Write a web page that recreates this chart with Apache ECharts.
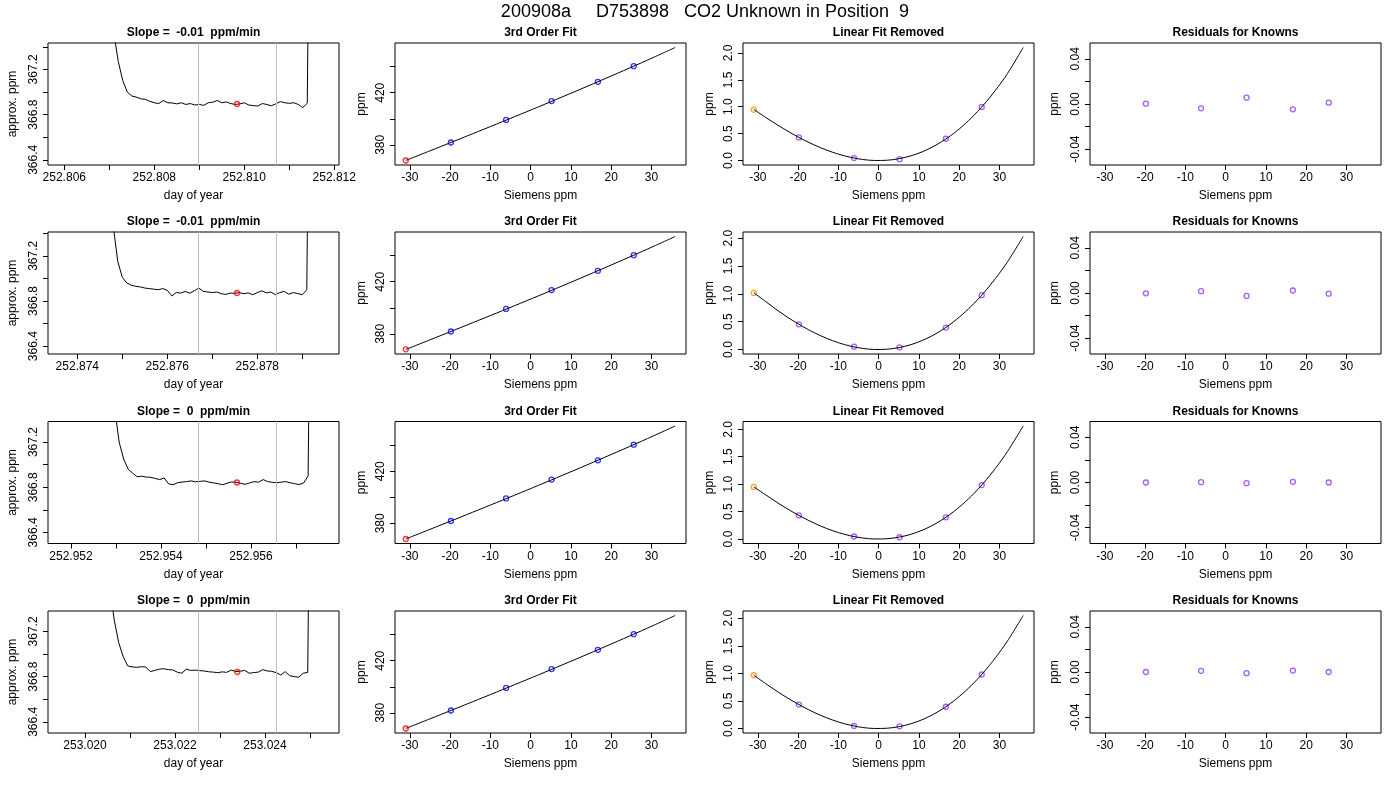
<!DOCTYPE html>
<html><head><meta charset="utf-8">
<script src="https://cdn.jsdelivr.net/npm/echarts@6/dist/echarts.min.js"></script>
<style>html,body{margin:0;padding:0;background:#fff}#c{width:1400px;height:800px}</style>
</head><body><div id="c"></div>
<script>
// ---------------- DATA ----------------
const mainTitle = '200908a     D753898   CO2 Unknown in Position  9';
const slopeLabels = ['-0.01', '-0.01', '0', '0'];

// time series (day of year), regular sampling
const tsStart = [252.8071, 252.8748, 252.95297, 253.02055];
const tsStep = 0.0001;
const tsValues1 = [367.52, 367.27, 367.10, 367.00, 366.965, 366.955, 366.94, 366.935, 366.918, 366.905, 366.898, 366.925, 366.905, 366.903, 366.895, 366.905, 366.89, 366.898, 366.885, 366.89, 366.882, 366.905, 366.91, 366.925, 366.905, 366.912, 366.898, 366.89, 366.895, 366.905, 366.885, 366.88, 366.876, 366.898, 366.89, 366.878, 366.895, 366.915, 366.905, 366.9, 366.905, 366.89, 366.862, 366.90, 371];
const tsValues2 = [367.46, 367.15, 367.01, 366.96, 366.94, 366.93, 366.925, 366.915, 366.91, 366.905, 366.9, 366.91, 366.895, 366.845, 366.875, 366.87, 366.885, 366.87, 366.89, 366.915, 366.885, 366.88, 366.875, 366.88, 366.865, 366.858, 366.87, 366.868, 366.875, 366.865, 366.872, 366.856, 366.875, 366.89, 366.872, 366.88, 366.856, 366.875, 366.885, 366.86, 366.875, 366.866, 366.856, 366.90, 371];
const tsValues3 = [367.50, 367.20, 367.05, 366.96, 366.925, 366.893, 366.898, 366.89, 366.888, 366.878, 366.868, 366.882, 366.83, 366.822, 366.84, 366.846, 366.85, 366.856, 366.848, 366.852, 366.856, 366.845, 366.838, 366.832, 366.822, 366.835, 366.847, 366.843, 366.835, 366.826, 366.838, 366.85, 366.845, 366.868, 366.85, 366.844, 366.84, 366.845, 366.85, 366.84, 366.832, 366.824, 366.838, 366.90, 371];
const tsValues4 = [367.6, 367.3, 367.1, 366.975, 366.895, 366.886, 366.882, 366.888, 366.885, 366.845, 366.855, 366.866, 366.87, 366.862, 366.86, 366.84, 366.83, 366.866, 366.855, 366.858, 366.853, 366.85, 366.843, 366.84, 366.835, 366.842, 366.838, 366.858, 366.845, 366.848, 366.855, 366.83, 366.836, 366.84, 366.862, 366.85, 366.847, 366.835, 366.815, 366.844, 366.808, 366.8, 366.795, 366.83, 366.838, 371];
const tsValues = [tsValues1, tsValues2, tsValues3, tsValues4];
const windowStart = [252.808971, 252.876689, 252.954829, 253.022518];
const windowEnd   = [252.810711, 252.878422, 252.956562, 253.024251];
const meanTime  = [252.80984, 252.87755, 252.955689, 253.023384];
const meanValue = [366.894, 366.871, 366.842, 366.841];
const timeAxisMin = [252.805638, 252.873349, 252.951489, 253.019178];
const timeAxisMax = [252.812105, 252.879816, 252.957956, 253.025645];
const timeTicks = [
  [252.806, 252.807, 252.808, 252.809, 252.810, 252.811, 252.812],
  [252.874, 252.875, 252.876, 252.877, 252.878, 252.879],
  [252.952, 252.953, 252.954, 252.955, 252.956, 252.957],
  [253.020, 253.021, 253.022, 253.023, 253.024, 253.025]
];
const timeLabels = [
  [252.806, 252.808, 252.810, 252.812],
  [252.874, 252.876, 252.878],
  [252.952, 252.954, 252.956],
  [253.020, 253.022, 253.024]
];
const ppmTicks = [366.4, 366.6, 366.8, 367.0, 367.2, 367.4];
const ppmLabels = [366.4, 366.8, 367.2];

// calibration
const knownX = [-19.8, -6.1, 5.2, 16.7, 25.6];
const unknownX = -31.0;
const knownPpm = [381.8, 399.1, 413.6, 428.4, 440.4];
const unknownPpm = [368.0, 368.1, 368.0, 368.0];
const fitLineX = [-31, -25, -19, -13, -7, -1, 5, 11, 17, 23, 29, 35.9];
const fitLineY = [368.0, 375.39, 382.80, 390.27, 397.79, 405.40, 413.10, 420.91, 428.83, 436.86, 445.04, 454.7];
const fitTicks = [380, 400, 420, 440];
const fitLabels = [380, 420];

const residCurveX = [-31, -28, -25, -22, -19, -16, -13, -10, -7, -4, -1, 2, 5, 8, 11, 14, 17, 20, 23, 26, 29, 32, 35.9];
const residCurve1 = [0.95, 0.80, 0.656, 0.521, 0.398, 0.290, 0.196, 0.119, 0.060, 0.020, 0.001, 0.005, 0.033, 0.087, 0.167, 0.277, 0.416, 0.586, 0.791, 1.029, 1.304, 1.617, 2.10];
const residCurve2 = [1.02, 0.859, 0.698, 0.551, 0.419, 0.303, 0.204, 0.123, 0.061, 0.021, 0.001, 0.005, 0.034, 0.087, 0.168, 0.275, 0.412, 0.580, 0.779, 1.010, 1.275, 1.575, 2.03];
const residCurve3 = [0.95, 0.803, 0.657, 0.521, 0.399, 0.290, 0.195, 0.118, 0.059, 0.019, 0.001, 0.005, 0.033, 0.086, 0.166, 0.274, 0.412, 0.580, 0.781, 1.017, 1.288, 1.596, 2.06];
const residCurve4 = [0.967, 0.813, 0.664, 0.527, 0.402, 0.292, 0.197, 0.119, 0.060, 0.019, 0.001, 0.005, 0.033, 0.086, 0.166, 0.274, 0.411, 0.580, 0.780, 1.014, 1.283, 1.589, 2.05];
const residCurves = [residCurve1, residCurve2, residCurve3, residCurve4];
const linRemovedKnown = [
  [0.43, 0.045, 0.026, 0.405, 0.995],
  [0.453, 0.052, 0.039, 0.395, 0.977],
  [0.43, 0.046, 0.033, 0.396, 0.983],
  [0.434, 0.046, 0.04, 0.395, 0.98]
];
const linRemovedUnknown = [0.945, 1.016, 0.95, 0.967];
const residTicks = [0, 0.5, 1.0, 1.5, 2.0];

const knownResiduals = [
  [0.0003, -0.0038, 0.0056, -0.0047, 0.0012],
  [-0.0003, 0.0016, -0.0026, 0.0022, -0.0006],
  [0.0, 0.0003, -0.0006, 0.0006, 0.0],
  [0.0, 0.001, -0.001, 0.0013, 0.0]
];
const knownResTicks = [-0.04, -0.02, 0, 0.02, 0.04];
const knownResLabels = [-0.04, 0, 0.04];
const sieTicks = [-30, -20, -10, 0, 10, 20, 30];

// ---------------- LAYOUT / BUILD ----------------
const FONT = '"Liberation Sans", Arial, Helvetica, sans-serif';
const PURPLE = '#9038f2';
const colLeft = [48, 395, 743, 1090];
const rowTop = [43, 232, 421.5, 611];
const W = 291, H = 122;
const sieRange = [-33.68, 38.58];

function padRange(arr) {
  const mn = Math.min(...arr), mx = Math.max(...arr), d = (mx - mn) * 0.04;
  return [mn - d, mx + d];
}
function inRange(vals, r) { return vals.filter(v => v >= r[0] - 1e-9 && v <= r[1] + 1e-9); }

const grids = [], xAxes = [], yAxes = [], series = [], titles = [];
titles.push({ text: mainTitle, left: 705, top: 3, textAlign: 'center', padding: 0,
  textStyle: { fontSize: 18, fontWeight: 'normal', color: '#000', fontFamily: FONT } });

function mkAxis(o) {
  return {
    type: 'value', gridIndex: o.grid, min: o.min, max: o.max, scale: true,
    name: o.name, nameLocation: 'middle', nameGap: o.nameGap, nameRotate: o.y ? 90 : 0,
    nameTextStyle: { fontSize: 12, color: '#000', fontFamily: FONT },
    axisLine: { show: false, onZero: false },
    axisTick: { show: true, inside: false, length: 5, lineStyle: { color: '#000', width: 1 }, customValues: o.ticks },
    axisLabel: { show: true, margin: o.y ? 8 : 7, fontSize: 12, color: '#000', fontFamily: FONT,
      rotate: o.y ? 90 : 0, customValues: o.labels, formatter: o.fmt, hideOverlap: false },
    splitLine: { show: false }
  };
}
const openCircle = (c) => ({ color: 'rgba(0,0,0,0)', borderColor: c, borderWidth: 1.3 });

for (let r = 0; r < 4; r++) {
  const titlesTxt = ['Slope =  ' + slopeLabels[r] + '  ppm/min', '3rd Order Fit', 'Linear Fit Removed', 'Residuals for Knowns'];
  for (let c = 0; c < 4; c++) {
    grids.push({ left: colLeft[c], top: rowTop[r], width: W, height: H, show: true,
      borderColor: '#000', borderWidth: 1, backgroundColor: 'transparent', containLabel: false, outerBoundsMode: 'none' });
    titles.push({ text: titlesTxt[c], left: colLeft[c] + W / 2, top: rowTop[r] - 16, textAlign: 'center', padding: 0,
      textStyle: { fontSize: 12, fontWeight: 'bold', color: '#000', fontFamily: FONT } });
  }
  // --- col 1: time series
  const g0 = r * 4;
  const yr = [meanValue[r] - 0.54, meanValue[r] + 0.54];
  xAxes.push(mkAxis({ grid: g0, min: timeAxisMin[r], max: timeAxisMax[r], name: 'day of year', nameGap: 25,
    ticks: timeTicks[r], labels: timeLabels[r], fmt: v => Number(v).toFixed(3) }));
  yAxes.push(mkAxis({ grid: g0, y: true, min: yr[0], max: yr[1], name: 'approx. ppm', nameGap: 29,
    ticks: inRange(ppmTicks, yr), labels: inRange(ppmLabels, yr), fmt: v => Number(v).toFixed(1) }));
  series.push({ type: 'line', xAxisIndex: g0, yAxisIndex: g0, showSymbol: false, symbol: 'none', clip: true,
    lineStyle: { color: '#000', width: 1 }, silent: true, animation: false, z: 3,
    data: tsValues[r].map((v, i) => [tsStart[r] + i * tsStep, v]) });
  series.push({ type: 'line', xAxisIndex: g0, yAxisIndex: g0, showSymbol: false, symbol: 'none', data: [], z: 1,
    markLine: { silent: true, symbol: ['none', 'none'], label: { show: false }, animation: false, precision: 10,
      lineStyle: { color: '#bebebe', type: 'solid', width: 1 },
      data: [
        [{ coord: [windowStart[r], yr[0]] }, { coord: [windowStart[r], yr[1]] }],
        [{ coord: [windowEnd[r], yr[0]] }, { coord: [windowEnd[r], yr[1]] }]
      ] } });
  series.push({ type: 'scatter', xAxisIndex: g0, yAxisIndex: g0, symbol: 'circle', symbolSize: 5, silent: true, animation: false, z: 4,
    itemStyle: openCircle('#ff0000'), data: [[meanTime[r], meanValue[r]]] });

  // --- col 2: 3rd order fit
  const g1 = r * 4 + 1;
  const fr = padRange(fitLineY.concat(knownPpm, [unknownPpm[r]]));
  xAxes.push(mkAxis({ grid: g1, min: sieRange[0], max: sieRange[1], name: 'Siemens ppm', nameGap: 25,
    ticks: sieTicks, labels: sieTicks, fmt: v => String(Math.round(v)) }));
  yAxes.push(mkAxis({ grid: g1, y: true, min: fr[0], max: fr[1], name: 'ppm', nameGap: 27,
    ticks: inRange(fitTicks, fr), labels: inRange(fitLabels, fr), fmt: v => String(Math.round(v)) }));
  series.push({ type: 'line', xAxisIndex: g1, yAxisIndex: g1, showSymbol: false, symbol: 'none', smooth: 0.3,
    lineStyle: { color: '#000', width: 1 }, silent: true, animation: false,
    data: fitLineX.map((x, i) => [x, fitLineY[i]]) });
  series.push({ type: 'scatter', xAxisIndex: g1, yAxisIndex: g1, symbol: 'circle', symbolSize: 5, silent: true, animation: false,
    itemStyle: openCircle('#0000ff'), data: knownX.map((x, i) => [x, knownPpm[i]]) });
  series.push({ type: 'scatter', xAxisIndex: g1, yAxisIndex: g1, symbol: 'circle', symbolSize: 5, silent: true, animation: false,
    itemStyle: openCircle('#ff0000'), data: [[unknownX, unknownPpm[r]]] });

  // --- col 3: linear fit removed
  const g2 = r * 4 + 2;
  const rr = padRange(residCurves[r].concat(linRemovedKnown[r], [linRemovedUnknown[r]]));
  xAxes.push(mkAxis({ grid: g2, min: sieRange[0], max: sieRange[1], name: 'Siemens ppm', nameGap: 25,
    ticks: sieTicks, labels: sieTicks, fmt: v => String(Math.round(v)) }));
  yAxes.push(mkAxis({ grid: g2, y: true, min: rr[0], max: rr[1], name: 'ppm', nameGap: 27,
    ticks: inRange(residTicks, rr), labels: inRange(residTicks, rr), fmt: v => Number(v).toFixed(1) }));
  series.push({ type: 'line', xAxisIndex: g2, yAxisIndex: g2, showSymbol: false, symbol: 'none', smooth: 0.3,
    lineStyle: { color: '#000', width: 1 }, silent: true, animation: false,
    data: residCurveX.map((x, i) => [x, residCurves[r][i]]) });
  series.push({ type: 'scatter', xAxisIndex: g2, yAxisIndex: g2, symbol: 'circle', symbolSize: 5, silent: true, animation: false,
    itemStyle: openCircle(PURPLE), data: knownX.map((x, i) => [x, linRemovedKnown[r][i]]) });
  series.push({ type: 'scatter', xAxisIndex: g2, yAxisIndex: g2, symbol: 'circle', symbolSize: 5, silent: true, animation: false,
    itemStyle: openCircle('#ff8c00'), data: [[unknownX, linRemovedUnknown[r]]] });

  // --- col 4: residuals for knowns
  const g3 = r * 4 + 3;
  xAxes.push(mkAxis({ grid: g3, min: sieRange[0], max: sieRange[1], name: 'Siemens ppm', nameGap: 25,
    ticks: sieTicks, labels: sieTicks, fmt: v => String(Math.round(v)) }));
  yAxes.push(mkAxis({ grid: g3, y: true, min: -0.054, max: 0.054, name: 'ppm', nameGap: 29,
    ticks: knownResTicks, labels: knownResLabels, fmt: v => Number(v).toFixed(2) }));
  series.push({ type: 'scatter', xAxisIndex: g3, yAxisIndex: g3, symbol: 'circle', symbolSize: 5, silent: true, animation: false,
    itemStyle: openCircle(PURPLE), data: knownX.map((x, i) => [x, knownResiduals[r][i]]) });
}

const chart = echarts.init(document.getElementById('c'), null, { renderer: 'canvas' });
chart.setOption({
  animation: false,
  backgroundColor: '#ffffff',
  textStyle: { fontFamily: FONT },
  title: titles,
  grid: grids,
  xAxis: xAxes,
  yAxis: yAxes,
  series: series
});
</script>
</body></html>
